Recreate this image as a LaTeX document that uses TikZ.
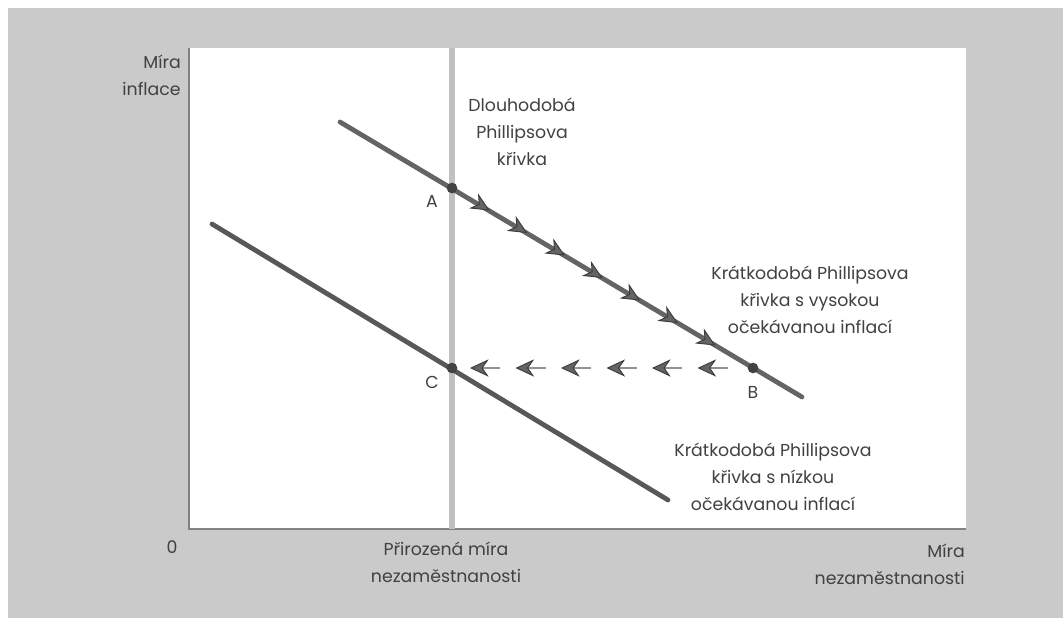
\documentclass[tikz,border=0pt]{standalone}
\usepackage{fontspec}
\setmainfont{Poppins}
\usetikzlibrary{arrows.meta,calc}
\definecolor{bggray}{RGB}{202,202,202}
\definecolor{curvecol}{RGB}{88,88,88}
\definecolor{uppercol}{RGB}{100,100,100}
\definecolor{lrpccol}{RGB}{192,192,192}
\definecolor{txtcol}{RGB}{65,65,65}
\definecolor{tipcol}{RGB}{100,100,100}
\definecolor{tipedge}{RGB}{60,60,60}
\definecolor{axiscol}{RGB}{130,130,130}
\begin{document}
\begin{tikzpicture}[x=0.75pt,y=-0.75pt,
  lbl/.style={text=txtcol,font=\fontsize{13}{20.25}\selectfont,inner sep=0pt},
  curveline/.style={draw=curvecol,line width=3.6pt,line cap=round},
  lrpcline/.style={draw=lrpccol,line width=3.8pt},
  dot/.style={circle,fill=curvecol!75!black,minimum size=8pt,inner sep=0pt},
  tipstyle/.style={-{Stealth[length=14pt,width=13pt,inset=4.5pt,color=tipedge,fill=tipcol,line width=0.7pt]}},
  arrup/.style={draw=uppercol,line width=1.2pt,tipstyle},
  arrleft/.style={draw=tipcol!70,line width=0.8pt,tipstyle}
]
\useasboundingbox (0,0) rectangle (1063,618);
\fill[white] (0,0) rectangle (1063,618);
\fill[bggray] (8,8) rectangle (1063,618);
\fill[white] (189,48) rectangle (966,529);
% axes
\coordinate (Otop) at (189,48);
\coordinate (O) at (189,529);
\coordinate (Xend) at (966,529);
\draw[axiscol,line width=0.8pt] (Otop) -- (O) -- (Xend);
% long-run Phillips curve
\coordinate (Ltop) at (452,48);
\coordinate (Lbot) at (452,529);
\draw[lrpcline] (Ltop) -- (Lbot);
% short-run curves
\coordinate (U1) at (340,122);
\coordinate (U2) at (802,397);
\coordinate (L1) at (212,224);
\coordinate (L2) at (668,500);
\draw[curveline,draw=uppercol] (U1) -- (U2);
\draw[curveline] (L1) -- (L2);
% points
\node[dot] (A) at (452,188) {};
\node[dot] (B) at (753,368) {};
\node[dot] (C) at (452,368) {};
% arrows along upper curve
\foreach \k in {1,...,7}{
  \draw[arrup] ($(A)!{\k/8-0.06}!(B)$) -- ($(A)!{\k/8}!(B)$);
}
% dashed arrows from B to C
\foreach \i in {0,...,5}{
  \draw[arrleft] ($(C)+({48+45.5*\i},0)$) -- ($(C)+({18+45.5*\i},0)$);
}
% labels
\node[lbl] (la) at (432,201) {A};
\node[lbl] (lb) at (753,392) {B};
\node[lbl] (lc) at (432,382) {C};
\node[lbl,align=right,anchor=east] (yl) at (181,75) {Míra\\inflace};
\node[lbl] (zero) at (172,547) {0};
\node[lbl,align=center] (xn) at (446,562) {Přirozená míra\\nezaměstnanosti};
\node[lbl,align=right,anchor=east] (xl) at (965,564) {Míra\\nezaměstnanosti};
\node[lbl,align=center] (dl) at (522,132) {Dlouhodobá\\Phillipsova\\křivka};
\node[lbl,align=center] (hi) at (810,300) {Krátkodobá Phillipsova\\křivka s vysokou\\očekávanou inflací};
\node[lbl,align=center] (lo) at (773,477) {Krátkodobá Phillipsova\\křivka s nízkou\\očekávanou inflací};
\end{tikzpicture}
\end{document}
